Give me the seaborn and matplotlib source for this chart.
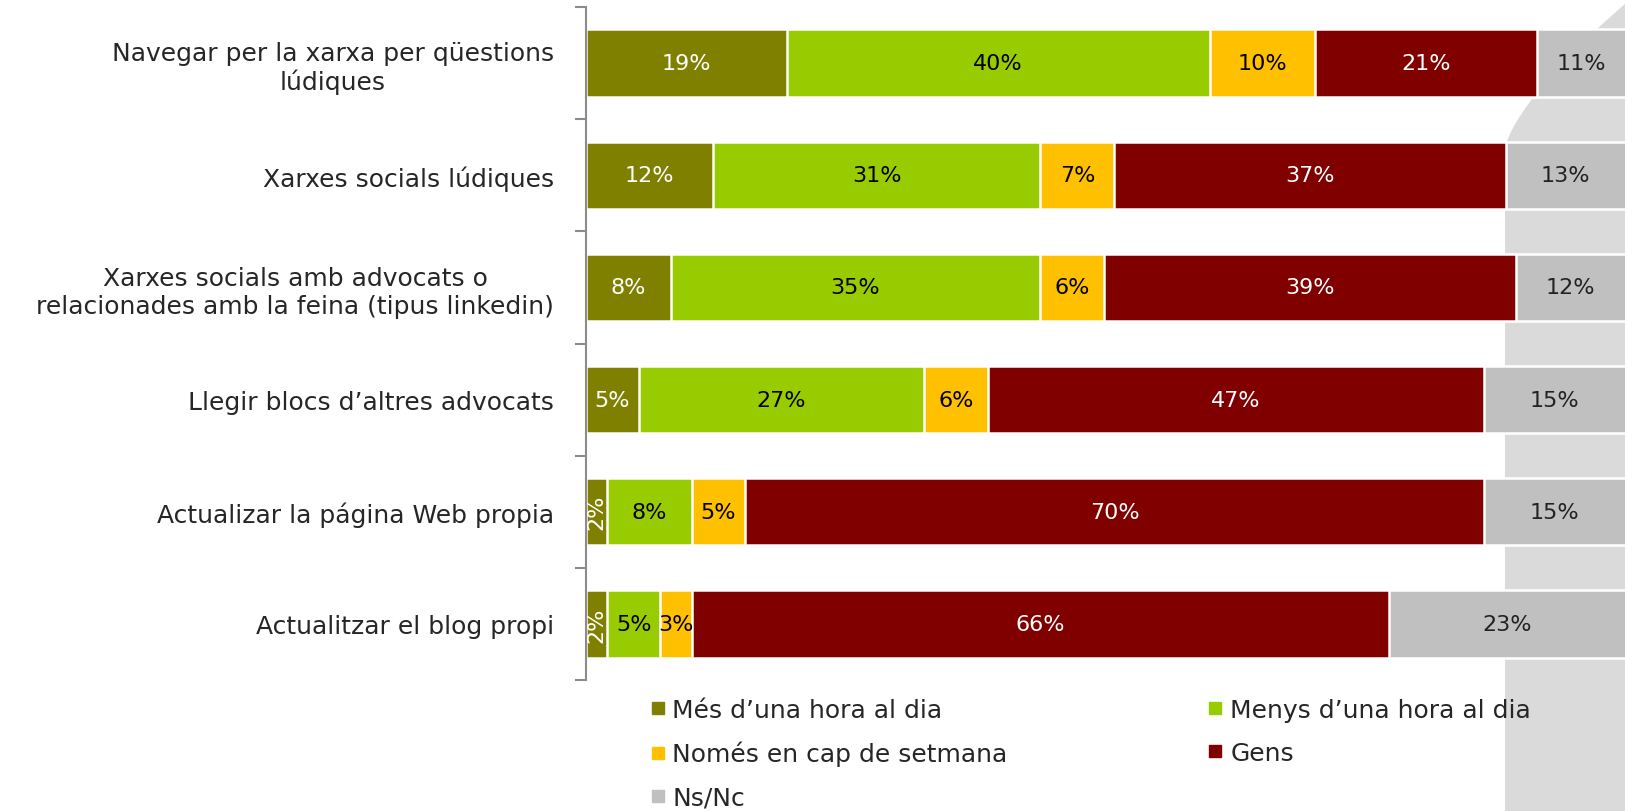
import numpy as np
import pandas as pd
import matplotlib
matplotlib.use('Agg')
import matplotlib.pyplot as plt
from matplotlib.lines import Line2D
from matplotlib.patches import Polygon
import seaborn as sns

### DATA ###
categories = ['Navegar per la xarxa per qüestions\nlúdiques',
              'Xarxes socials lúdiques',
              'Xarxes socials amb advocats o\nrelacionades amb la feina (tipus linkedin)',
              'Llegir blocs d\u2019altres advocats',
              'Actualizar la página Web propia',
              'Actualitzar el blog propi']
series = ['Més d\u2019una hora al dia', 'Menys d\u2019una hora al dia',
          'Només en cap de setmana', 'Gens', 'Ns/Nc']
mes_hora = [19, 12, 8, 5, 2, 2]
menys_hora = [40, 31, 35, 27, 8, 5]
cap_setmana = [10, 7, 6, 6, 5, 3]
gens = [21, 37, 39, 47, 70, 66]
ns_nc = [11, 13, 12, 15, 15, 23]

colors = ['#808000', '#99cc00', '#ffc000', '#800000', '#c0c0c0']
text_colors = ['white', 'black', 'black', 'white', '#222222']

DATA = pd.DataFrame({'cat': categories, series[0]: mes_hora, series[1]: menys_hora,
                     series[2]: cap_setmana, series[3]: gens, series[4]: ns_nc})
vals = DATA[series].to_numpy(dtype=float)
cum = vals.cumsum(axis=1)

### PLOT ###
sns.set_style('white')
plt.rcParams['font.family'] = ['DejaVu Sans']

fig = plt.figure(figsize=(16.25, 8.12), dpi=100)

# light grey slide decoration on the right (behind the chart)
t = np.linspace(0, 1, 40)
curve_x = 1505 + 120 * t ** 1.4
curve_y = 150 - 145 * t
pts = [(1505, 812)] + list(zip(curve_x, curve_y)) + [(1625, 812)]
pts = [(x / 1625, 1 - y / 812) for x, y in pts]
fig.patches.append(Polygon(pts, closed=True, transform=fig.transFigure,
                           facecolor='#dadada', edgecolor='none', zorder=0))

ax = fig.add_axes([586 / 1625, 1 - 681 / 812, 1 - 586 / 1625, 673 / 812])
ax.set_zorder(2)
ax.patch.set_alpha(0)

# stacked bars: draw cumulative totals from the back to the front
for i in range(len(series) - 1, -1, -1):
    sns.barplot(x=cum[:, i], y=DATA['cat'], color=colors[i], orient='h', width=0.6,
                edgecolor='white', linewidth=1.8, ax=ax, saturation=1)

xmax = 98.3
ax.set_xlim(0, xmax)
ax.set_ylim(5.5, -0.5)

# segment labels, centred on the visible part of each segment
for r in range(len(categories)):
    left = 0
    for i in range(len(series)):
        right = min(cum[r, i], xmax)
        v = vals[r, i]
        rot = 90 if v <= 2 else 0
        ax.text((left + right) / 2, r, f'{int(v)}%', ha='center', va='center',
                color=text_colors[i], fontsize=16, rotation=rot)
        left = cum[r, i]

ax.set_xlabel('')
ax.set_ylabel('')
ax.set_xticks([])
for s in ['top', 'right', 'bottom']:
    ax.spines[s].set_visible(False)
ax.spines['left'].set_color('#8c8c8c')
ax.spines['left'].set_linewidth(1.5)
ax.set_yticks(np.arange(-0.5, 6, 1), minor=True)
ax.tick_params(axis='y', which='minor', left=True, length=8, width=1.5, color='#8c8c8c')
ax.tick_params(axis='y', which='major', length=0, pad=23, labelsize=18)
for lab in ax.get_yticklabels():
    lab.set_multialignment('center')

# legend, row-wise order
order = [0, 2, 4, 1, 3]
handles = [Line2D([0], [0], marker='s', linestyle='none', markersize=9,
                  markerfacecolor=colors[i], markeredgecolor=colors[i]) for i in order]
fig.legend(handles, [series[i] for i in order], ncol=2, frameon=False,
           loc='upper left', bbox_to_anchor=(640 / 1625, 1 - 689 / 812),
           fontsize=18, handlelength=0.6, handletextpad=0.3, columnspacing=8.0,
           labelspacing=0.76, borderaxespad=0)

plt.savefig('out.png', dpi=100)
